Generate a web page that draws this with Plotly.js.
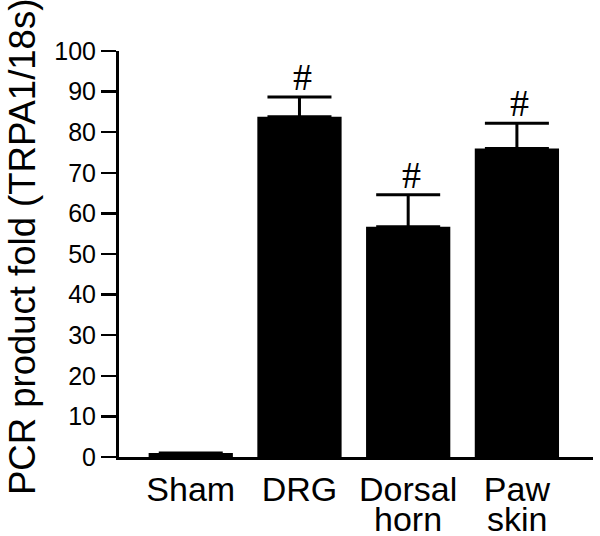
<!DOCTYPE html>
<html>
<head>
<meta charset="utf-8">
<script src="https://cdn.plot.ly/plotly-3.0.1.min.js"></script>
<style>
  html, body { margin: 0; padding: 0; background: #fff; }
  #chart { width: 600px; height: 536px; }
</style>
</head>
<body>
<div id="chart"></div>
<script>
var groups = ['Sham', 'DRG', 'Dorsal horn', 'Paw skin'];
var firstLine = ['Sham', 'DRG', 'Dorsal', 'Paw'];
var secondLine = ['', '', 'horn', 'skin'];
var fold = [1.0, 83.8, 56.7, 76.0];
var sem = [0, 4.9, 7.9, 6.2];
var marks = ['', '#', '#', '#'];
var yTitle = 'PCR product fold (TRPA1/18s)';

var pos = groups.map(function (g, i) { return i; });

var trace = {
  x: pos,
  y: fold,
  type: 'bar',
  width: 0.775,
  marker: { color: '#000', line: { width: 0 } },
  error_y: {
    type: 'data',
    array: sem,
    arrayminus: sem.map(function () { return 0; }),
    symmetric: false,
    color: '#000',
    thickness: 3,
    width: 32
  },
  hoverinfo: 'none'
};

var annotations = [];
pos.forEach(function (p, i) {
  if (marks[i]) {
    annotations.push({
      x: p, y: fold[i] + sem[i], xref: 'x', yref: 'y',
      text: marks[i], showarrow: false,
      yanchor: 'bottom', yshift: -3, xshift: 3,
      font: { family: 'Liberation Serif, serif', size: 38, color: '#000' }
    });
  }
  if (secondLine[i]) {
    annotations.push({
      x: p, y: 0, xref: 'x', yref: 'paper',
      text: secondLine[i], showarrow: false,
      yanchor: 'top', yshift: -41,
      font: { family: 'Liberation Sans, Arial, sans-serif', size: 34, color: '#000' }
    });
  }
});

// y axis title as a rotated annotation so it can sit a little above centre
annotations.push({
  x: 0, y: 0, xref: 'paper', yref: 'paper',
  xanchor: 'center', yanchor: 'middle',
  xshift: -97, yshift: 210,
  text: yTitle, textangle: -90, showarrow: false,
  font: { family: 'Liberation Sans, Arial, sans-serif', size: 36.5, color: '#000' }
});

var layout = {
  width: 600,
  height: 536,
  margin: { l: 119, r: 7, t: 51, b: 79 },
  paper_bgcolor: '#fff',
  plot_bgcolor: '#fff',
  showlegend: false,
  font: { family: 'Liberation Sans, Arial, sans-serif', color: '#000' },
  xaxis: {
    range: [-0.66, 3.7],
    tickmode: 'array',
    tickvals: pos,
    ticktext: firstLine,
    ticks: '',
    showgrid: false,
    zeroline: false,
    showline: true,
    linecolor: '#000',
    linewidth: 3,
    tickfont: { size: 34 },
    fixedrange: true
  },
  yaxis: {
    range: [0, 100],
    dtick: 10,
    ticks: 'outside',
    ticklen: 15,
    tickwidth: 2.5,
    tickcolor: '#000',
    showgrid: false,
    zeroline: false,
    showline: true,
    linecolor: '#000',
    linewidth: 3,
    tickfont: { size: 25 },
    automargin: false,
    fixedrange: true
  },
  annotations: annotations
};

Plotly.newPlot('chart', [trace], layout, { displayModeBar: false, staticPlot: true });
</script>
</body>
</html>
